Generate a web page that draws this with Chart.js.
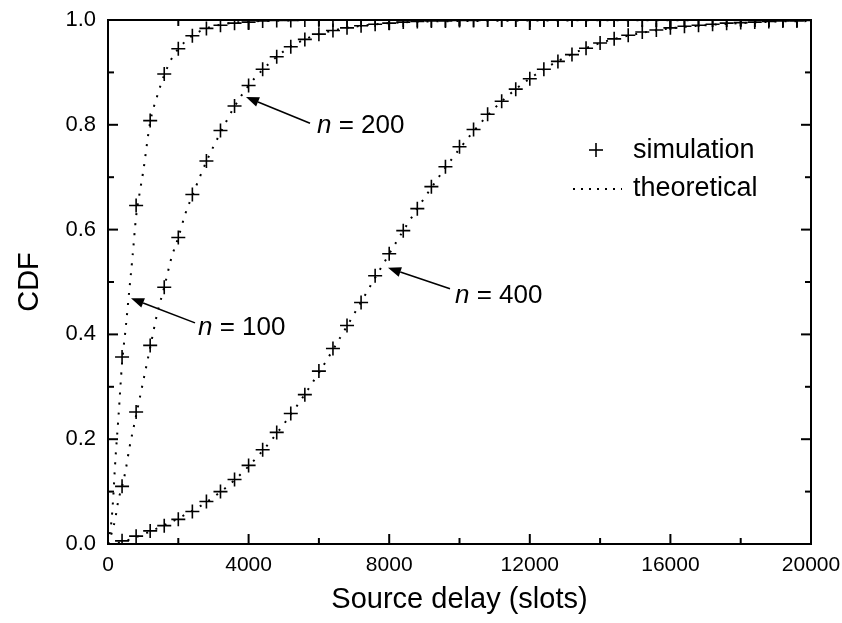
<!DOCTYPE html>
<html><head><meta charset="utf-8">
<script src="https://cdn.jsdelivr.net/npm/chart.js@4.4.0/dist/chart.umd.min.js"></script>
<style>html,body{margin:0;padding:0;background:#fff}#wrap{width:842px;height:623px}</style>
</head><body><div id="wrap"><canvas id="c" width="842" height="623"></canvas></div>
<script>
// ---- data ----
const simX = [400,800,1200,1600,2000,2400,2800,3200,3600,4000,4400,4800,5200,5600,6000,6400,6800,7200,7600,8000,
  8400,8800,9200,9600,10000,10400,10800,11200,11600,12000,12400,12800,13200,13600,14000,14400,14800,15200,15600,16000,
  16400,16800,17200,17600,18000,18400,18800,19200,19600,20000];
const sim100 = [0.357,0.646,0.808,0.897,0.945,0.970,0.984,0.990,0.994,0.996,0.998,0.999,0.999,
  1,1,1,1,1,1,1,1,1,1,1,1,1,1,1,1,1,1,1,1,1,1,1,1,1,1,1,1,1,1,1,1,1,1,1,1,1];
const sim200 = [0.110,0.252,0.379,0.490,0.585,0.667,0.731,0.789,0.836,0.875,0.906,0.930,0.949,0.963,0.973,0.980,
  0.985,0.989,0.992,0.994,0.996,0.997,0.998,0.998,0.999,0.999,
  1,1,1,1,1,1,1,1,1,1,1,1,1,1,1,1,1,1,1,1,1,1,1,1];
const sim400 = [0.006,0.015,0.025,0.035,0.047,0.062,0.081,0.100,0.123,0.150,
  0.180,0.213,0.249,0.285,0.330,0.373,0.417,0.461,0.512,0.554,
  0.598,0.640,0.682,0.720,0.758,0.791,0.820,0.845,0.868,0.888,
  0.906,0.921,0.934,0.946,0.956,0.964,0.971,0.977,0.981,0.985,
  0.988,0.990,0.992,0.994,0.995,0.996,0.997,0.998,0.998,0.999];

const th100X = [0,50,100,150,200,300,400,500,600,700,800,900,1000,1200,1400,1600,1800,2000,2400,2800,3200,3600,4000,5000,6000,8000,20000];
const th100Y = [0,0.02,0.045,0.09,0.15,0.245,0.345,0.41,0.48,0.55,0.625,0.67,0.71,0.805,0.855,0.895,0.925,0.945,0.97,0.984,0.991,0.995,0.997,0.999,1,1,1];
const th200X = [0,100,200,300,400,500,600,800,1000,1200,1400,1600,1800,2000,2200,2400,2800,3200,3600,4000,4400,4800,5200,5600,6000,6800,8000,10000,20000];
const th200Y = [0,0.02,0.046,0.085,0.11,0.14,0.18,0.245,0.31,0.375,0.44,0.49,0.545,0.585,0.63,0.665,0.73,0.785,0.835,0.875,0.905,0.93,0.949,0.963,0.973,0.985,0.994,0.998,1];
const th400X = [0,400,800,1200,1600,2000,2800,3600,4400,5200,6000,6800,7600,8400,9200,10000,10800,11600,12400,13200,14000,15000,16000,17000,18000,19000,20000];
const th400Y = [0,0.004,0.013,0.024,0.036,0.049,0.08,0.122,0.178,0.247,0.327,0.416,0.508,0.598,0.68,0.754,0.818,0.868,0.906,0.935,0.956,0.973,0.984,0.99,0.994,0.997,0.998];

const xMajorTicks = [0,4000,8000,12000,16000,20000];
const xMinorTicks = [2000,6000,10000,14000,18000];
const yMajorTicks = [0,0.2,0.4,0.6,0.8,1.0];
const yMinorTicks = [0.1,0.3,0.5,0.7,0.9];

const xTitle = 'Source delay (slots)';
const yTitle = 'CDF';
const seriesLabels = ['simulation','theoretical'];
const annLabels = ['100','200','400'];
// arrow tip, arrow tail, text anchor (data coordinates)
const annTip  = [[654,0.469],[3926,0.853],[7966,0.527]];
const annTail = [[2475,0.422],[5747,0.803],[9730,0.487]];
const annText = [[2560,0.399],[5946,0.784],[9872,0.46]];

const FONT = '"Liberation Sans", Arial, Helvetica, sans-serif';

function pts(xs, ys){ return xs.map((x,i)=>({x:x,y:ys[i]})); }
function simSet(ys){ return {data:pts(simX,ys), showLine:false, pointStyle:'cross', pointRadius:7, pointHoverRadius:7,
  borderColor:'#000', backgroundColor:'#000', pointBorderWidth:1.6, clip:0}; }
function thSet(xs,ys){ return {data:pts(xs,ys), showLine:true, pointRadius:0, borderColor:'#000', borderWidth:2,
  borderDash:[2,8], cubicInterpolationMode:'monotone', fill:false, clip:0}; }
function noPad(s){ s.paddingLeft=0; s.paddingRight=0; s.paddingTop=0; s.paddingBottom=0; }

const framePlugin = {
  id:'frame',
  afterDatasetsDraw(chart){
    const {ctx, chartArea:a, scales:{x,y}} = chart;
    ctx.save();
    ctx.strokeStyle='#000'; ctx.lineWidth=2; ctx.lineCap='butt';
    ctx.strokeRect(a.left, a.top, a.right-a.left, a.bottom-a.top);
    function seg(x1,y1,x2,y2){ ctx.beginPath(); ctx.moveTo(x1,y1); ctx.lineTo(x2,y2); ctx.stroke(); }
    const drawX=(v,L)=>{ const p=x.getPixelForValue(v); seg(p,a.bottom,p,a.bottom-L); seg(p,a.top,p,a.top+L); };
    const drawY=(v,L)=>{ const p=y.getPixelForValue(v); seg(a.left,p,a.left+L,p); seg(a.right,p,a.right-L,p); };
    xMajorTicks.forEach(v=>drawX(v,10)); xMinorTicks.forEach(v=>drawX(v,6));
    yMajorTicks.forEach(v=>drawY(v,10)); yMinorTicks.forEach(v=>drawY(v,6));

    // annotations
    ctx.fillStyle='#000'; ctx.lineWidth=1.6;
    annLabels.forEach((lab,i)=>{
      const tx=x.getPixelForValue(annTip[i][0]), ty=y.getPixelForValue(annTip[i][1]);
      const sx=x.getPixelForValue(annTail[i][0]), sy=y.getPixelForValue(annTail[i][1]);
      const ang=Math.atan2(ty-sy,tx-sx), hl=13, hw=5;
      const bx=tx-hl*Math.cos(ang), by=ty-hl*Math.sin(ang);
      seg(sx,sy,bx,by);
      ctx.beginPath(); ctx.moveTo(tx,ty);
      ctx.lineTo(bx+hw*Math.sin(ang), by-hw*Math.cos(ang));
      ctx.lineTo(bx-hw*Math.sin(ang), by+hw*Math.cos(ang));
      ctx.closePath(); ctx.fill();
      const px=x.getPixelForValue(annText[i][0]), py=y.getPixelForValue(annText[i][1]);
      ctx.textBaseline='alphabetic'; ctx.textAlign='left';
      ctx.font='italic 26px '+FONT; ctx.fillText('n',px,py);
      const w=ctx.measureText('n').width;
      ctx.font='26px '+FONT; ctx.fillText(' = '+lab,px+w,py);
    });

    // legend
    ctx.font='27px '+FONT; ctx.textAlign='left'; ctx.textBaseline='alphabetic';
    ctx.lineWidth=1.6;
    seg(589,150,603,150); seg(596,143,596,157);
    ctx.fillText(seriesLabels[0],633,158);
    ctx.lineWidth=2; ctx.setLineDash([2,6]);
    seg(573,189,622,189); ctx.setLineDash([]);
    ctx.fillText(seriesLabels[1],633,196);

    // y axis title, centred on the axis
    ctx.save();
    ctx.translate(30, (a.top+a.bottom)/2); ctx.rotate(-Math.PI/2);
    ctx.font='29px '+FONT; ctx.textAlign='center'; ctx.textBaseline='middle';
    ctx.fillText(yTitle,0,0);
    ctx.restore();
    ctx.restore();
  }
};

new Chart(document.getElementById('c'), {
  type:'scatter',
  data:{datasets:[ thSet(th100X,th100Y), thSet(th200X,th200Y), thSet(th400X,th400Y),
                   simSet(sim100), simSet(sim200), simSet(sim400) ]},
  options:{
    responsive:false, animation:false, devicePixelRatio:1,
    layout:{padding:{top:20,right:31,left:0,bottom:0}},
    plugins:{legend:{display:false}, tooltip:{enabled:false}},
    scales:{
      x:{type:'linear', min:0, max:20000,
         afterBuildTicks:s=>{ s.ticks = xMajorTicks.map(v=>({value:v})); },
         ticks:{font:{family:FONT,size:21}, color:'#000', padding:9, maxRotation:0, autoSkip:false, callback:v=>String(v)},
         grid:{display:false, drawTicks:false}, border:{display:false},
         title:{display:true, text:xTitle, color:'#000', font:{family:FONT,size:29}, padding:{top:0,bottom:6}},
         afterFit:s=>{ s.height = 79; noPad(s); }},
      y:{type:'linear', min:0, max:1,
         afterBuildTicks:s=>{ s.ticks = yMajorTicks.map(v=>({value:v})); },
         ticks:{font:{family:FONT,size:22}, color:'#000', padding:12, callback:v=>Number(v).toFixed(1)},
         grid:{display:false, drawTicks:false}, border:{display:false},
         title:{display:false},
         afterFit:s=>{ s.width = 108; noPad(s); }}
    }
  },
  plugins:[framePlugin]
});
</script></body></html>
